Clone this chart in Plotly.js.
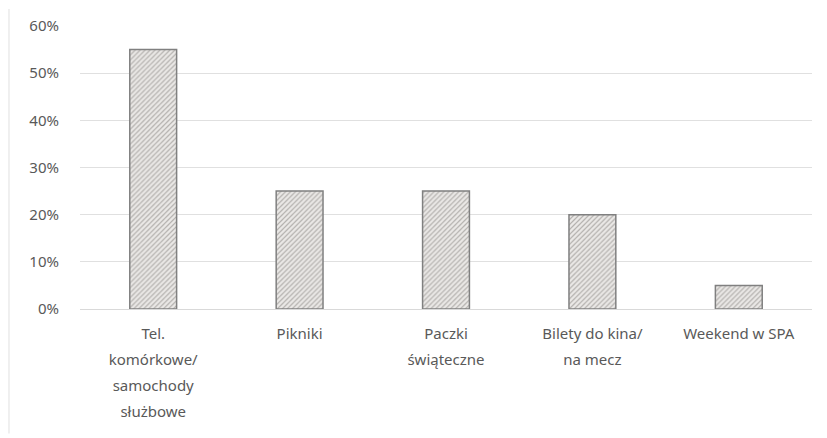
<!DOCTYPE html>
<html>
<head>
<meta charset="utf-8">
<script src="https://cdn.plot.ly/plotly-3.0.1.min.js"></script>
<style>
html,body{margin:0;padding:0;background:#fff;}
#chart{width:827px;height:438px;}
</style>
</head>
<body>
<div id="chart"></div>
<script>
const categoryLines = [
  ["Tel.", "komórkowe/", "samochody", "służbowe"],
  ["Pikniki"],
  ["Paczki", "świąteczne"],
  ["Bilety do kina/", "na mecz"],
  ["Weekend w SPA"]
];
const values = [0.55, 0.25, 0.25, 0.20, 0.05];
const yTickVals = [0, 0.1, 0.2, 0.3, 0.4, 0.5, 0.6];
const yTickText = ["0%", "10%", "20%", "30%", "40%", "50%", "60%"];

const categories = categoryLines.map(ls => ls.join(" "));
const tickLabels = categoryLines.map(ls => ls.map(l => '<span style="font-size:15px">' + l + '</span>').join("<br>"));

const trace = {
  type: "bar",
  x: categories,
  y: values,
  width: 0.32,
  marker: {
    color: "#e6e3e0",
    line: {color: "#808080", width: 1.5},
    pattern: {shape: "/", fgcolor: "#b3b0ad", bgcolor: "#ebe9e7", size: 3.5, solidity: 0.35}
  },
  hoverinfo: "skip"
};

const layout = {
  width: 827,
  height: 438,
  margin: {l: 80, r: 15, t: 26, b: 129},
  paper_bgcolor: "#ffffff",
  plot_bgcolor: "#ffffff",
  showlegend: false,
  font: {family: "Noto Sans, sans-serif", size: 15, color: "#595959"},
  xaxis: {
    showgrid: false,
    showline: true,
    linecolor: "#d9d9d9",
    linewidth: 1,
    ticks: "",
    tickvals: categories,
    ticktext: tickLabels,
    tickfont: {size: 20, color: "#595959"},
    ticklabelstandoff: 5,
    fixedrange: true
  },
  yaxis: {
    range: [0, 0.6],
    tickvals: yTickVals,
    ticktext: yTickText,
    showgrid: true,
    gridcolor: "#e0e0e0",
    gridwidth: 1,
    zeroline: false,
    showline: false,
    ticks: "",
    ticklabelstandoff: 20,
    tickfont: {size: 15, color: "#595959"},
    fixedrange: true
  },
  shapes: [
    {type: "line", xref: "paper", yref: "paper", x0: -0.097, x1: -0.097, y0: 1.06, y1: -0.44,
     line: {color: "#e0e0e0", width: 1}}
  ]
};

Plotly.newPlot("chart", [trace], layout, {displayModeBar: false, staticPlot: true});
</script>
</body>
</html>
